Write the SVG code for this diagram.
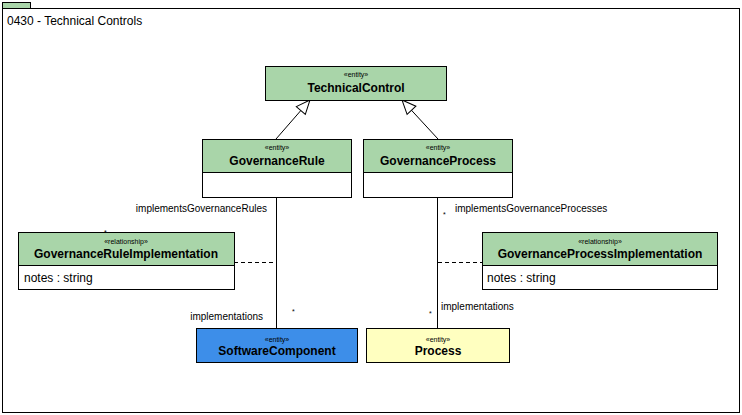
<svg xmlns="http://www.w3.org/2000/svg" width="742" height="415" viewBox="0 0 742 415">
<style>
.box{stroke:#000;stroke-width:1}
.g{fill:#a9d5a9}
.w{fill:#fff}
.st{font-family:"Liberation Sans",Arial,sans-serif;font-size:7px;text-anchor:middle}
.nm{font-family:"Liberation Sans",Arial,sans-serif;font-size:12px;font-weight:bold;text-anchor:middle}
.at{font-family:"Liberation Sans",Arial,sans-serif;font-size:12px}
.lb{font-family:"Liberation Sans",Arial,sans-serif;font-size:10px}
.mu{font-family:"Liberation Sans",Arial,sans-serif;font-size:7px}
.ln{stroke:#000;stroke-width:1;fill:none}
.ds{stroke:#000;stroke-width:1;fill:none;stroke-dasharray:4 3}
</style>
<defs>
<marker id="gen" markerWidth="16" markerHeight="16" refX="15" refY="8" orient="auto" markerUnits="userSpaceOnUse">
<path d="M1,2 L15,8 L1,14 Z" fill="#fff" stroke="#000" stroke-width="1"/>
</marker>
</defs>
<g id="frame">
<rect x="2.5" y="2.5" width="28" height="6" class="box g"/>
<rect x="2.5" y="8.5" width="737" height="404" class="box" fill="#fff"/>
<text x="7" y="25" class="at">0430 - Technical Controls</text>
</g>
<g id="connectors">
<line x1="276" y1="139" x2="310" y2="100" class="ln" marker-end="url(#gen)"/>
<line x1="438" y1="139" x2="402" y2="100" class="ln" marker-end="url(#gen)"/>
<line x1="276.5" y1="197" x2="276.5" y2="328" class="ln"/>
<line x1="437.5" y1="197" x2="437.5" y2="328" class="ln"/>
<line x1="234" y1="262.5" x2="276" y2="262.5" class="ds"/>
<line x1="438" y1="262.5" x2="482" y2="262.5" class="ds"/>
<text x="267" y="212" class="lb" text-anchor="end">implementsGovernanceRules</text>
<text x="263" y="320" class="lb" text-anchor="end">implementations</text>
<text x="292" y="314" class="mu">*</text>
<text x="104" y="235" class="mu">*</text>
<text x="443" y="217" class="mu">*</text>
<text x="455" y="212" class="lb">implementsGovernanceProcesses</text>
<text x="429" y="316" class="mu">*</text>
<text x="441" y="310" class="lb">implementations</text>
</g>
<g id="TechnicalControl">
<rect x="265.5" y="66.5" width="181" height="34" class="box g"/>
<text x="356" y="77" class="st">«entity»</text>
<text x="356" y="92" class="nm">TechnicalControl</text>
</g>
<g id="GovernanceRule">
<rect x="202.5" y="139.5" width="149" height="58" class="box w"/>
<rect x="202.5" y="139.5" width="149" height="33" class="box g"/>
<text x="277" y="150" class="st">«entity»</text>
<text x="277" y="165" class="nm">GovernanceRule</text>
</g>
<g id="GovernanceProcess">
<rect x="363.5" y="139.5" width="149" height="58" class="box w"/>
<rect x="363.5" y="139.5" width="149" height="33" class="box g"/>
<text x="438" y="150" class="st">«entity»</text>
<text x="438" y="165" class="nm">GovernanceProcess</text>
</g>
<g id="GovernanceRuleImplementation">
<rect x="18.5" y="232.5" width="216" height="57" class="box w"/>
<rect x="18.5" y="232.5" width="216" height="33" class="box g"/>
<text x="126" y="244" class="st">«relationship»</text>
<text x="126" y="258" class="nm">GovernanceRuleImplementation</text>
<text x="24" y="282" class="at">notes : string</text>
</g>
<g id="GovernanceProcessImplementation">
<rect x="482.5" y="232.5" width="235" height="57" class="box w"/>
<rect x="482.5" y="232.5" width="235" height="33" class="box g"/>
<text x="600" y="244" class="st">«relationship»</text>
<text x="600" y="258" class="nm">GovernanceProcessImplementation</text>
<text x="487" y="282" class="at">notes : string</text>
</g>
<g id="SoftwareComponent">
<rect x="196.5" y="328.5" width="161" height="34" class="box" fill="#3d8ee9"/>
<text x="277" y="342" class="st">«entity»</text>
<text x="277" y="355" class="nm">SoftwareComponent</text>
</g>
<g id="Process">
<rect x="366.5" y="328.5" width="143" height="34" class="box" fill="#ffffc0"/>
<text x="438" y="342" class="st">«entity»</text>
<text x="438" y="355" class="nm">Process</text>
</g>
</svg>
